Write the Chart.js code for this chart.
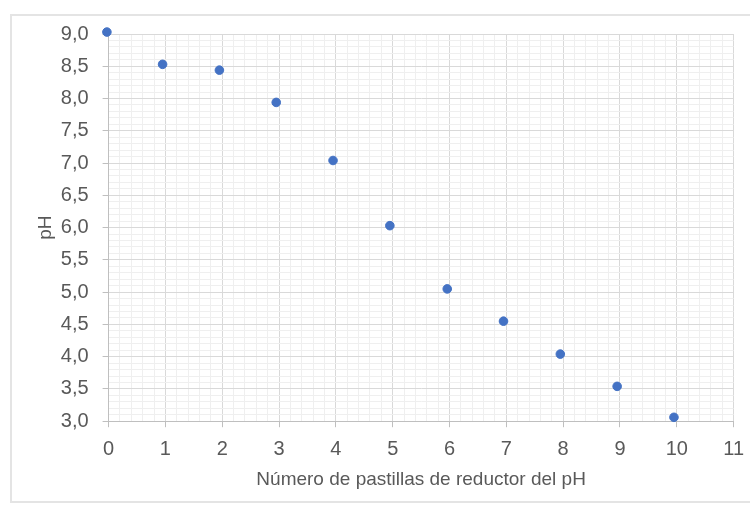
<!DOCTYPE html>
<html>
<head>
<meta charset="utf-8">
<script src="https://cdn.jsdelivr.net/npm/chart.js@4"></script>
<style>
  html, body { margin: 0; padding: 0; background: #fff; overflow: hidden; }
  #frame {
    position: absolute; left: 10px; top: 14px; width: 745px; height: 489px;
    border: 2px solid #e4e4e4; box-sizing: border-box;
  }
  #wrap { position: absolute; left: 0; top: 0; width: 754px; height: 506px; }
</style>
</head>
<body>
<div id="frame"></div>
<div id="wrap"><canvas id="chart"></canvas></div>
<script>
// ── Data ──────────────────────────────────────────────────────────────────
const PASTILLAS = [-0.03, 0.95, 1.95, 2.95, 3.95, 4.95, 5.96, 6.95, 7.95, 8.95, 9.95];
const PH        = [9.03, 8.53, 8.44, 7.94, 7.04, 6.03, 5.05, 4.55, 4.04, 3.54, 3.06];

const X_TITLE = 'Número de pastillas de reductor del pH';
const Y_TITLE = 'pH';

// ── Styles ────────────────────────────────────────────────────────────────
const _TEXT  = '#595959';
const _MAJOR = '#d9d9d9';
const _MINOR = '#efefef';
const _AXIS  = '#bfbfbf';
const _FONT  = 'Liberation Sans, Arial, sans-serif';

const _isMajorX = v => Math.abs(v - Math.round(v)) < 1e-6;
const _isMajorY = v => Math.abs(v * 2 - Math.round(v * 2)) < 1e-6;

new Chart(document.getElementById('chart'), {
  type: 'scatter',
  data: {
    datasets: [{
      data: PASTILLAS.map((x, i) => ({ x, y: PH[i] })),
      backgroundColor: '#4472c4',
      borderColor: '#4472c4',
      pointRadius: 4.3,
      pointHoverRadius: 4.3,
      clip: false,
    }],
  },
  options: {
    responsive: true,
    maintainAspectRatio: false,
    animation: false,
    layout: { padding: { left: 3, right: 0, top: 34, bottom: 15 } },
    plugins: { legend: { display: false }, tooltip: { enabled: false } },
    scales: {
      x: {
        type: 'linear',
        min: 0, max: 11,
        border: { color: _AXIS, width: 1 },
        grid: {
          color: c => _isMajorX(c.tick.value) ? _MAJOR : _MINOR,
          tickColor: c => _isMajorX(c.tick.value) ? _AXIS : 'rgba(0,0,0,0)',
          tickLength: 6,
        },
        ticks: {
          stepSize: 0.2,
          autoSkip: false,
          maxTicksLimit: 200,
          maxRotation: 0,
          padding: 10,
          color: _TEXT,
          font: { family: _FONT, size: 20 },
          callback: v => _isMajorX(v) ? String(Math.round(v)) : '',
        },
        title: {
          display: true,
          text: X_TITLE,
          color: _TEXT,
          font: { family: _FONT, size: 19 },
          padding: { top: -3, bottom: 0 },
        },
      },
      y: {
        type: 'linear',
        min: 3, max: 9,
        border: { color: _AXIS, width: 1 },
        grid: {
          color: c => _isMajorY(c.tick.value) ? _MAJOR : _MINOR,
          tickColor: c => _isMajorY(c.tick.value) ? _AXIS : 'rgba(0,0,0,0)',
          tickLength: 6,
        },
        ticks: {
          stepSize: 0.1,
          autoSkip: false,
          maxTicksLimit: 200,
          padding: 14,
          color: _TEXT,
          font: { family: _FONT, size: 20 },
          callback: v => _isMajorY(v) ? v.toFixed(1).replace('.', ',') : '',
        },
        title: {
          display: true,
          text: Y_TITLE,
          color: _TEXT,
          font: { family: _FONT, size: 19 },
          padding: { top: 31, bottom: -10 },
        },
      },
    },
  },
});
</script>
</body>
</html>
